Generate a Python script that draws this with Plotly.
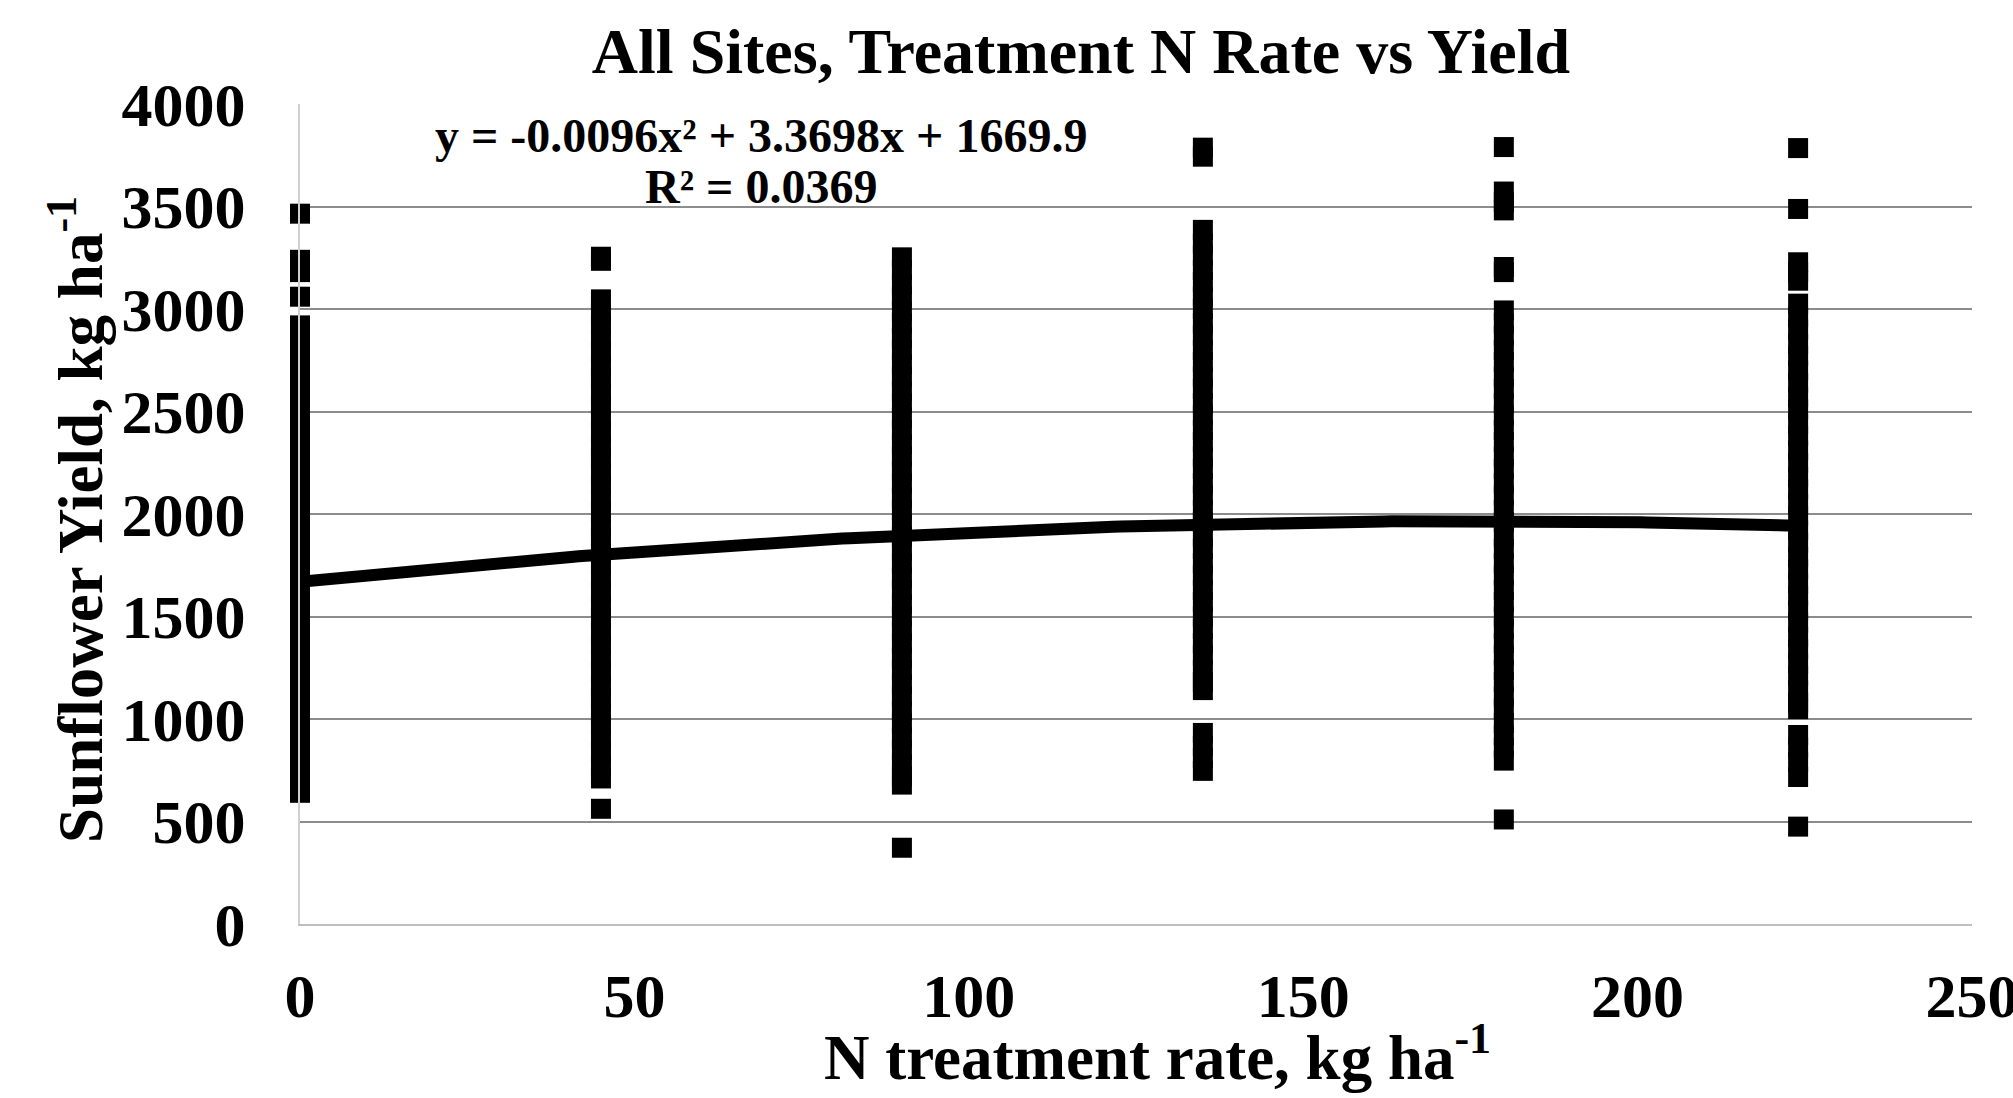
import numpy as np
import plotly.graph_objects as go

# N treatment rates (kg/ha)
N_RATES = [0, 45, 90, 135, 180, 224]

Y_N0 = [3465, 3240, 3180, 3060, 2920, 2860, 2790, 2735, 2660, 2600, 2540, 2470, 2410, 2350,
        2280, 2220, 2150, 2090, 2030, 1960, 1900, 1840, 1770, 1710, 1650, 1580, 1520, 1460,
        1390, 1330, 1270, 1200, 1140, 1080, 1010, 950, 890, 830, 760, 700, 640]
Y_N45 = [3255, 3235, 3047, 2980, 2920, 2850, 2790, 2720, 2660, 2590, 2530, 2460, 2400, 2330,
         2270, 2200, 2140, 2070, 2010, 1940, 1880, 1810, 1750, 1680, 1620, 1550, 1490, 1420,
         1360, 1290, 1230, 1160, 1100, 1030, 970, 900, 840, 770, 710, 562]
Y_N90 = [3252, 3190, 3120, 3060, 2990, 2930, 2860, 2800, 2730, 2670, 2600, 2540, 2470, 2410,
         2340, 2280, 2210, 2150, 2080, 2020, 1950, 1890, 1820, 1760, 1690, 1630, 1560, 1500,
         1430, 1370, 1300, 1240, 1170, 1110, 1040, 980, 910, 850, 780, 720, 680, 372]
Y_N135 = [3787, 3743, 3386, 3320, 3260, 3190, 3130, 3060, 3000, 2930, 2870, 2800, 2740, 2670,
          2610, 2540, 2480, 2410, 2350, 2280, 2220, 2150, 2090, 2020, 1960, 1890, 1830, 1760,
          1700, 1630, 1570, 1500, 1440, 1370, 1310, 1240, 1180, 1141, 932, 870, 810, 747]
Y_N180 = [3790, 3573, 3520, 3481, 3205, 3180, 2993, 2930, 2870, 2800, 2740, 2670, 2610, 2540,
          2480, 2410, 2350, 2280, 2220, 2150, 2090, 2020, 1960, 1890, 1830, 1760, 1700, 1630,
          1570, 1500, 1440, 1370, 1310, 1240, 1180, 1110, 1050, 980, 920, 860, 797, 510]
Y_N224 = [3785, 3488, 3228, 3180, 3138, 3026, 2960, 2900, 2830, 2770, 2700, 2640, 2570, 2510,
          2440, 2380, 2310, 2250, 2180, 2120, 2050, 1990, 1920, 1860, 1790, 1730, 1660, 1600,
          1530, 1470, 1400, 1340, 1270, 1210, 1140, 1080, 1048, 922, 860, 790, 717, 475]

YIELDS = [Y_N0, Y_N45, Y_N90, Y_N135, Y_N180, Y_N224]

# Quadratic trendline coefficients shown on the chart
TREND_COEF = [-0.0096, 3.3698, 1669.9]
TREND_X_MAX = 224
EQ_LINE = "y = -0.0096x² + 3.3698x + 1669.9"
R2_LINE = "R² = 0.0369"

X_TICKS = [0, 50, 100, 150, 200, 250]
Y_TICKS = [0, 500, 1000, 1500, 2000, 2500, 3000, 3500, 4000]

TITLE = "All Sites, Treatment N Rate vs Yield"
X_TITLE = "N treatment rate, kg ha<sup>-1</sup>"
Y_TITLE = "Sunflower Yield, kg ha<sup>-1</sup>"

FONT = "Liberation Serif, Times New Roman, serif"

xs, ys = [], []
for n, vals in zip(N_RATES, YIELDS):
    xs += [n] * len(vals)
    ys += vals

fig = go.Figure()
fig.add_trace(go.Scatter(
    x=xs, y=ys, mode="markers",
    marker=dict(symbol="square", size=20, color="black", line=dict(width=0)),
    cliponaxis=False, showlegend=False,
))

tx = np.linspace(0, TREND_X_MAX, 200)
ty = np.polyval(TREND_COEF, tx)
fig.add_trace(go.Scatter(
    x=tx, y=ty, mode="lines", line=dict(color="black", width=12),
    cliponaxis=False, showlegend=False,
))

eq_font = dict(family=FONT, size=48, color="black", weight="bold")
fig.add_annotation(text=EQ_LINE, xref="paper", yref="paper", x=0.276, y=0.962,
                   xanchor="center", yanchor="middle", showarrow=False, font=eq_font)
fig.add_annotation(text=R2_LINE, xref="paper", yref="paper", x=0.276, y=0.899,
                   xanchor="center", yanchor="middle", showarrow=False, font=eq_font)

title_font = dict(family=FONT, size=63, color="black", weight="bold")
fig.add_annotation(text=X_TITLE, xref="paper", yref="paper", x=0.5126, y=-0.1585,
                   xanchor="center", yanchor="middle", showarrow=False, font=title_font)
fig.add_annotation(text=Y_TITLE, xref="paper", yref="paper", x=-0.1334, y=0.494,
                   xanchor="center", yanchor="middle", showarrow=False, textangle=-90,
                   font=title_font)

tick_font = dict(family=FONT, size=62, color="black", weight="bold")

fig.update_layout(
    width=2013, height=1098,
    margin=dict(l=300, r=41, t=104, b=174, autoexpand=False),
    paper_bgcolor="white", plot_bgcolor="white",
    title=dict(
        text=TITLE, x=0.537, xanchor="center", y=0.9535, yanchor="middle",
        font=dict(family=FONT, size=64, color="black", weight="bold"),
    ),
    xaxis=dict(
        range=[0, 250], tickvals=X_TICKS, ticktext=[str(v) for v in X_TICKS],
        showgrid=False, zeroline=False, showline=True, linecolor="#bfbfbf", linewidth=2,
        ticks="", ticklabelstandoff=17, ticklabeloverflow="allow", automargin=False,
        tickfont=tick_font,
    ),
    yaxis=dict(
        range=[0, 4000], tickvals=Y_TICKS, ticktext=[str(v) for v in Y_TICKS],
        showgrid=True, gridcolor="#8c8c8c", gridwidth=2,
        zeroline=False, showline=True, linecolor="#d0d0d0", linewidth=2,
        ticks="", ticklabelstandoff=40, ticklabeloverflow="allow", automargin=False,
        tickfont=tick_font,
    ),
)

fig.write_html("out.html")
